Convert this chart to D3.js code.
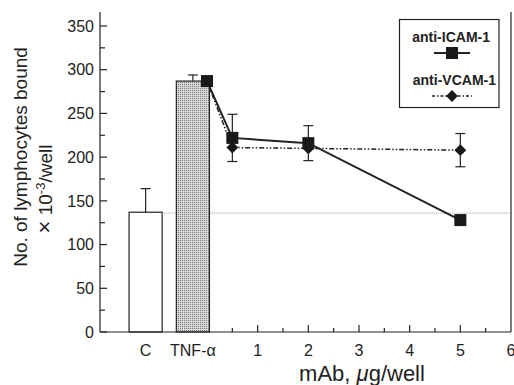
<!DOCTYPE html>
<html>
<head>
<meta charset="utf-8">
<script src="https://cdn.jsdelivr.net/npm/d3@7"></script>
<style>
  body { margin: 0; background: #fff; }
  text { font-family: "Liberation Sans", Arial, sans-serif; fill: #222; }
</style>
</head>
<body>
<svg id="chart" width="514" height="385"></svg>
<script>
// bar categories (controls)
const barCats = ['C', 'TNF-α'];
const barVals = [137, 287];
const barErr = [27, 7];

// mAb doses, ug/well
const doses = [0, 0.5, 2, 5];
const icam = [287, 222, 216, 128];
const icamErr = [0, 27, 20, 0];
const vcam = [287, 211, 210, 208];
const vcamErr = [0, 0, 0, 19];

const baseline = 136;
const yTicks = [0, 50, 100, 150, 200, 250, 300, 350];
const xTicks = [1, 2, 3, 4, 5, 6];

const svg = d3.select('#chart');

const x = d3.scaleLinear().domain([-2.112, 6]).range([100, 511]);
const y = d3.scaleLinear().domain([0, 366]).range([332, 12]);
const xb = d3.scaleBand().domain(barCats).range([122, 216.5])
  .paddingInner(0.3).paddingOuter(0.15);

// pattern for the TNF bar
const defs = svg.append('defs');
const pat = defs.append('pattern').attr('id', 'grid')
  .attr('width', 2).attr('height', 2).attr('patternUnits', 'userSpaceOnUse');
pat.append('rect').attr('width', 2).attr('height', 2).attr('fill', '#d8d8d8');
pat.append('rect').attr('width', 1).attr('height', 1).attr('fill', '#777');

// baseline reference line
svg.append('line')
  .attr('x1', xb('C') + xb.bandwidth()).attr('x2', x(6))
  .attr('y1', y(baseline)).attr('y2', y(baseline))
  .attr('stroke', '#888').attr('stroke-width', 0.8).attr('stroke-dasharray', '1,1');

// bars
svg.append('g').selectAll('rect')
  .data(barCats)
  .join('rect')
  .attr('x', d => xb(d))
  .attr('width', xb.bandwidth())
  .attr('y', (d, i) => y(barVals[i]))
  .attr('height', (d, i) => y(0) - y(barVals[i]))
  .attr('fill', (d, i) => i === 0 ? '#fff' : 'url(#grid)')
  .attr('stroke', '#222').attr('stroke-width', 1.2);

// bar error bars (upper only)
const be = svg.append('g').attr('stroke', '#222').attr('stroke-width', 1.2);
barCats.forEach((c, i) => {
  const cx = xb(c) + xb.bandwidth() / 2;
  be.append('line').attr('x1', cx).attr('x2', cx)
    .attr('y1', y(barVals[i])).attr('y2', y(barVals[i] + barErr[i]));
  be.append('line').attr('x1', cx - 5).attr('x2', cx + 5)
    .attr('y1', y(barVals[i] + barErr[i])).attr('y2', y(barVals[i] + barErr[i]));
});

// error bars for the curves
function errBars(vals, errs) {
  const g = svg.append('g').attr('stroke', '#222').attr('stroke-width', 1.2);
  doses.forEach((d, i) => {
    if (!errs[i]) return;
    const cx = x(d), lo = y(vals[i] - errs[i]), hi = y(vals[i] + errs[i]);
    g.append('line').attr('x1', cx).attr('x2', cx).attr('y1', lo).attr('y2', hi);
    g.append('line').attr('x1', cx - 5).attr('x2', cx + 5).attr('y1', lo).attr('y2', lo);
    g.append('line').attr('x1', cx - 5).attr('x2', cx + 5).attr('y1', hi).attr('y2', hi);
  });
}
errBars(icam, icamErr);
errBars(vcam, vcamErr);

const line = d3.line().x(d => x(d[0])).y(d => y(d[1]));

// VCAM line (dash-dot-dot)
svg.append('path')
  .datum(doses.map((d, i) => [d, vcam[i]]))
  .attr('d', line).attr('fill', 'none')
  .attr('stroke', '#222').attr('stroke-width', 1.5)
  .attr('stroke-dasharray', '5,2,1.5,2,1.5,2');

// ICAM line
svg.append('path')
  .datum(doses.map((d, i) => [d, icam[i]]))
  .attr('d', line).attr('fill', 'none')
  .attr('stroke', '#222').attr('stroke-width', 2);

const diamond = d3.symbol().type(d3.symbolDiamond2).size(90);
svg.append('g').selectAll('path')
  .data(doses.slice(1))
  .join('path')
  .attr('d', diamond)
  .attr('transform', (d, i) => `translate(${x(d)},${y(vcam[i + 1])})`)
  .attr('fill', '#1a1a1a');

svg.append('g').selectAll('rect')
  .data(doses)
  .join('rect')
  .attr('x', d => x(d) - 6).attr('y', (d, i) => y(icam[i]) - 6)
  .attr('width', 12).attr('height', 12)
  .attr('fill', '#1a1a1a');

// axes
const ax = svg.append('g').attr('stroke', '#222').attr('stroke-width', 1.2);
ax.append('line').attr('x1', x.range()[0]).attr('x2', x.range()[0]).attr('y1', y(0)).attr('y2', y.range()[1]);
ax.append('line').attr('x1', x.range()[1]).attr('x2', x.range()[1]).attr('y1', y(0)).attr('y2', y.range()[1]);
ax.append('line').attr('x1', x.range()[0]).attr('x2', x.range()[1]).attr('y1', y(0)).attr('y2', y(0));

// y ticks (inward, minor every 25)
d3.range(0, 351, 25).forEach(v => {
  const len = v % 50 === 0 ? 7 : 5;
  ax.append('line').attr('x1', x.range()[0]).attr('x2', x.range()[0] + len)
    .attr('y1', y(v)).attr('y2', y(v));
});
// x ticks (inward, minor every 0.5)
d3.range(0.5, 6, 0.5).forEach(v => {
  const len = v % 1 === 0 ? 7 : 4;
  ax.append('line').attr('x1', x(v)).attr('x2', x(v))
    .attr('y1', y(0)).attr('y2', y(0) - len);
});

svg.append('g').selectAll('text')
  .data(yTicks)
  .join('text')
  .attr('x', x.range()[0] - 6).attr('y', d => y(d))
  .attr('dy', '0.36em').attr('text-anchor', 'end')
  .attr('font-size', 16).text(d => d);

svg.append('g').selectAll('text')
  .data(xTicks)
  .join('text')
  .attr('x', d => x(d)).attr('y', y(0) + 18)
  .attr('dy', '0.36em').attr('text-anchor', 'middle')
  .attr('font-size', 16).text(d => d);

svg.append('g').selectAll('text')
  .data(barCats)
  .join('text')
  .attr('x', d => xb(d) + xb.bandwidth() / 2).attr('y', y(0) + 18)
  .attr('dy', '0.36em').attr('text-anchor', 'middle')
  .attr('font-size', 16).text(d => d);

// axis titles
const yt = svg.append('text').attr('transform', 'translate(27,157) rotate(-90)')
  .attr('text-anchor', 'middle').attr('font-size', 19);
yt.text('No. of lymphocytes bound');
const yt2 = svg.append('text').attr('transform', 'translate(52,189) rotate(-90)')
  .attr('text-anchor', 'middle').attr('font-size', 19);
yt2.append('tspan').attr('font-size', 22).text('×');
yt2.append('tspan').text(' 10');
yt2.append('tspan').attr('dy', -7).attr('font-size', 13).text('-3');
yt2.append('tspan').attr('dy', 7).text('/well');

const xt = svg.append('text').attr('x', 362).attr('y', 381)
  .attr('text-anchor', 'middle').attr('font-size', 22);
xt.append('tspan').text('mAb, ');
xt.append('tspan').attr('font-style', 'italic').text('μ');
xt.append('tspan').text('g/well');

// legend
const lg = svg.append('g');
lg.append('rect').attr('x', 399.5).attr('y', 19.5).attr('width', 99.5).attr('height', 88)
  .attr('fill', '#fff').attr('stroke', '#222').attr('stroke-width', 1.2);
lg.append('text').attr('x', 490).attr('y', 42).attr('text-anchor', 'end')
  .attr('font-size', 14).attr('font-weight', 'bold').text('anti-ICAM-1');
lg.append('line').attr('x1', 434).attr('x2', 470).attr('y1', 53).attr('y2', 53)
  .attr('stroke', '#222').attr('stroke-width', 2);
lg.append('rect').attr('x', 446).attr('y', 47).attr('width', 12).attr('height', 12).attr('fill', '#1a1a1a');
lg.append('text').attr('x', 496).attr('y', 85).attr('text-anchor', 'end')
  .attr('font-size', 14).attr('font-weight', 'bold').text('anti-VCAM-1');
lg.append('line').attr('x1', 432).attr('x2', 472).attr('y1', 96).attr('y2', 96)
  .attr('stroke', '#222').attr('stroke-width', 1.5).attr('stroke-dasharray', '3,2,1.5,2');
lg.append('path').attr('d', diamond).attr('transform', 'translate(452,96)').attr('fill', '#1a1a1a');
</script>
</body>
</html>
